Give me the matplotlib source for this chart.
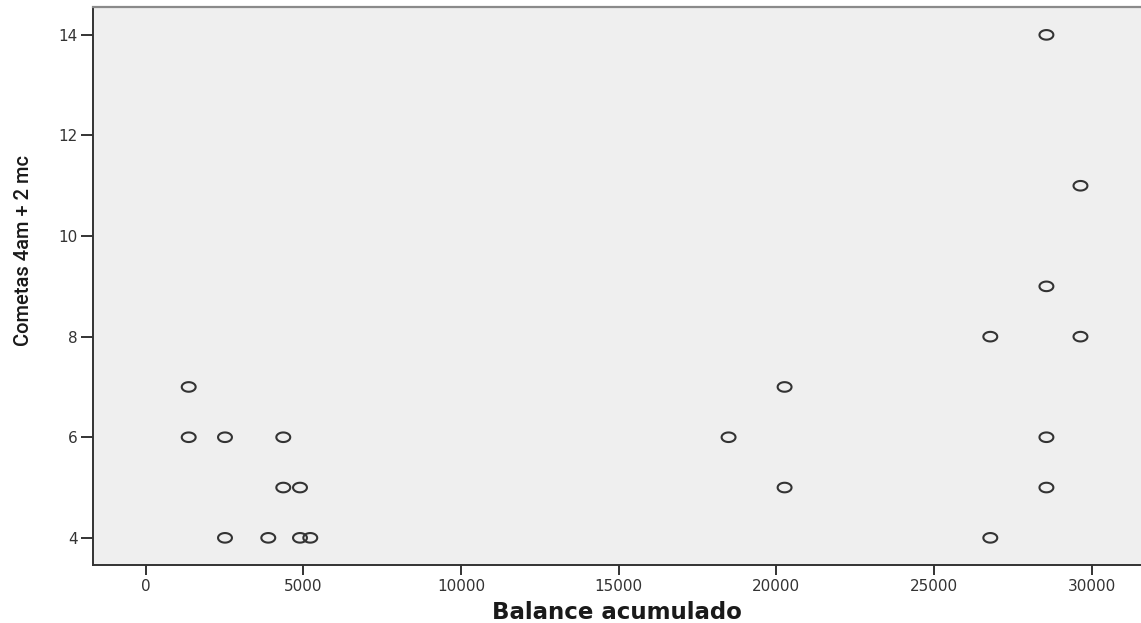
import matplotlib
matplotlib.use("Agg")
import matplotlib.pyplot as plt
import numpy as np
from matplotlib.path import Path

# Data
balance = [1364, 1364, 2515, 4364, 2515, 3888, 4364, 4894, 4894, 5220,
           18488, 20265, 20265, 26790, 26790, 28570, 28570, 28570, 28570,
           29650, 29650]
cometas = [7, 6, 6, 6, 4, 4, 5, 5, 4, 4,
           6, 7, 5, 4, 8, 14, 9, 6, 5, 11, 8]
x_ticks = [0, 5000, 10000, 15000, 20000, 25000, 30000]
y_ticks = [4, 6, 8, 10, 12, 14]
x_label = "Balance acumulado"
y_label = "Cometas 4am + 2 mc"

W, H = 1141, 623
fig = plt.figure(figsize=(W / 100, H / 100), dpi=100)
ax = fig.add_axes([93.3 / W, (H - 565) / H, (W - 93.3) / W, (565 - 6.7) / H])
ax.set_facecolor("#efefef")

# horizontally stretched ellipse marker
t = np.linspace(0, 2 * np.pi, 60)
ell = Path(np.column_stack([1.45 * np.cos(t), np.sin(t)]), closed=True)

ax.scatter(balance, cometas, marker=ell, s=100, facecolors="none",
           edgecolors="#333333", linewidths=1.5, zorder=3, clip_on=False)

ax.set_xlim(-1662, 31570)
ax.set_ylim(3.46, 14.56)
ax.set_xticks(x_ticks)
ax.set_yticks(y_ticks)
ax.set_xticklabels([str(v) for v in x_ticks])
ax.set_yticklabels([str(v) for v in y_ticks])

for s in ["left", "bottom"]:
    ax.spines[s].set_color("#333333")
    ax.spines[s].set_linewidth(1.4)
ax.spines["top"].set_color("#8a8a8a")
ax.spines["top"].set_linewidth(1.6)
ax.spines["right"].set_visible(False)

ax.tick_params(axis="both", direction="out", color="#333333", width=1.4,
               labelcolor="#333333", labelsize=11)
ax.tick_params(axis="y", length=9, pad=2)
ax.tick_params(axis="x", length=7, pad=3)

ax.set_xlabel(x_label, fontsize=16.5, fontweight="bold", color="#1a1a1a",
              labelpad=5)
fig.text(24 / W, 1 - 250 / H, y_label, rotation=90, ha="center", va="center",
         fontsize=14.5, fontweight="medium", family=["Roboto", "DejaVu Sans"],
         color="#1a1a1a")

fig.savefig("out.png", dpi=100)
